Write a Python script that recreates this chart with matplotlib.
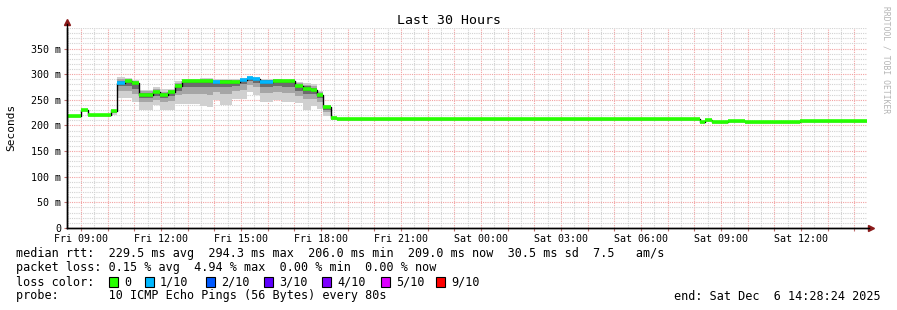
import numpy as np
import pandas as pd
import matplotlib
matplotlib.use('Agg')
import matplotlib.pyplot as plt
import matplotlib.dates as mdates
from matplotlib.ticker import MultipleLocator, FuncFormatter
from matplotlib.patches import Rectangle

# Smokeping data, consolidated steps (start of each step), values in ms
seg_start = [
    '2025-12-05 08:28:24', '2025-12-05 09:00', '2025-12-05 09:15', '2025-12-05 10:07',
    '2025-12-05 10:21', '2025-12-05 10:39', '2025-12-05 10:55', '2025-12-05 11:10',
    '2025-12-05 11:42', '2025-12-05 11:58', '2025-12-05 12:15', '2025-12-05 12:31',
    '2025-12-05 12:47', '2025-12-05 13:27', '2025-12-05 13:43', '2025-12-05 13:57',
    '2025-12-05 14:12', '2025-12-05 14:39', '2025-12-05 14:57', '2025-12-05 15:13',
    '2025-12-05 15:27', '2025-12-05 15:42', '2025-12-05 16:12', '2025-12-05 16:32',
    '2025-12-05 17:01', '2025-12-05 17:19', '2025-12-05 17:37', '2025-12-05 17:51',
    '2025-12-05 18:04', '2025-12-05 18:22', '2025-12-05 18:36',
    '2025-12-06 01:50', '2025-12-06 03:42', '2025-12-06 07:50', '2025-12-06 08:12',
    '2025-12-06 08:23', '2025-12-06 08:39', '2025-12-06 09:15', '2025-12-06 09:53',
    '2025-12-06 10:20', '2025-12-06 10:40', '2025-12-06 11:57',
]
t_end = '2025-12-06 14:28:24'

median_ms = [218, 230, 220, 228, 283, 287, 283, 260, 265, 260, 265, 276, 286, 286,
             286, 284, 285, 284, 288, 293, 290, 285, 287, 286, 276, 272, 270, 259,
             235, 215, 213, 212, 213, 212, 207, 211, 206, 209, 206, 207, 206, 209]
loss_tenths = [0, 0, 0, 0, 1, 0, 0, 0, 0, 0, 0, 0, 0, 0,
               0, 1, 0, 0, 1, 1, 1, 1, 0, 0, 0, 0, 0, 0,
               0, 0, 0, 0, 0, 0, 0, 0, 0, 0, 0, 0, 0, 0]
smoke_min = [217, 229, 219, 220, 254, 254, 246, 231, 239, 230, 230, 241, 241, 237,
             235, 249, 240, 251, 251, 265, 259, 245, 249, 246, 243, 231, 237, 233,
             218, 210, 212, 211, 212, 211, 206, 210, 205, 208, 205, 206, 205, 208]
smoke_max = [219, 231, 221, 229, 294, 293, 288, 270, 274, 271, 271, 287, 290, 292,
             292, 291, 291, 291, 293, 296, 294, 291, 291, 290, 285, 283, 280, 268,
             240, 218, 214, 213, 214, 213, 208, 212, 207, 210, 207, 208, 207, 210]
inner_lo = [218, 230, 220, 224, 268, 268, 262, 246, 250, 245, 248, 260, 262, 262,
            260, 265, 262, 267, 270, 278, 274, 264, 266, 263, 258, 252, 252, 246,
            226, 212, 213, 212, 213, 212, 207, 211, 206, 209, 206, 207, 206, 209]
inner_hi = [218, 230, 220, 228, 290, 291, 286, 267, 271, 266, 269, 283, 289, 290,
            290, 289, 289, 289, 291, 295, 292, 289, 290, 289, 282, 279, 277, 265,
            238, 217, 213, 212, 213, 212, 207, 211, 206, 209, 206, 207, 206, 209]
core_lo = [218, 230, 220, 226, 276, 277, 272, 254, 258, 253, 257, 268, 274, 275,
           274, 275, 274, 276, 280, 286, 282, 274, 276, 274, 267, 262, 261, 253,
           231, 214, 213, 212, 213, 212, 207, 211, 206, 209, 206, 207, 206, 209]
core_hi = [218, 230, 220, 228, 287, 289, 285, 264, 268, 263, 267, 280, 288, 289,
           289, 287, 288, 287, 290, 294, 291, 288, 289, 288, 279, 276, 273, 262,
           237, 216, 213, 212, 213, 212, 207, 211, 206, 209, 206, 207, 206, 209]

loss_steps = [0, 1, 2, 3, 4, 5, 9]
loss_labels = ['0', '1/10', '2/10', '3/10', '4/10', '5/10', '9/10']
loss_colors = ['#26ff00', '#00b8ff', '#0059ff', '#5e00ff', '#7e00ff', '#dd00ff', '#ff0000']

stats_lines = [
    'median rtt:  229.5 ms avg  294.3 ms max  206.0 ms min  209.0 ms now  30.5 ms sd  7.5   am/s',
    'packet loss: 0.15 % avg  4.94 % max  0.00 % min  0.00 % now',
    'loss color:',
    'probe:       10 ICMP Echo Pings (56 Bytes) every 80s',
]
end_text = 'end: Sat Dec  6 14:28:24 2025'

plt.rcParams['font.family'] = 'DejaVu Sans Mono'

W, H = 897, 310
fig = plt.figure(figsize=(W / 100, H / 100), dpi=100)
ax = fig.add_axes([67 / W, 82 / H, 800 / W, 200 / H])

edges = mdates.date2num(pd.to_datetime(seg_start + [t_end], format='mixed'))


def stepped(v):
    v = np.asarray(v, dtype=float)
    return np.append(v, v[-1])


# smoke
ax.fill_between(edges, stepped(smoke_min), stepped(smoke_max), step='post',
                color='#d0d0d0', lw=0, zorder=2)
ax.fill_between(edges, stepped(inner_lo), stepped(inner_hi), step='post',
                color='#a6a6a6', lw=0, zorder=2)
ax.fill_between(edges, stepped(core_lo), stepped(core_hi), step='post',
                color='#6c6c6c', lw=0, zorder=2)

# median line, coloured by loss
ax.step(edges, stepped(median_ms), where='post', color='black', lw=1.0, zorder=3)
for i, m in enumerate(median_ms):
    c = loss_colors[loss_steps.index(loss_tenths[i])]
    ax.hlines(m, edges[i], edges[i + 1], colors=c, lw=2.6, capstyle='butt', zorder=4)

ax.set_xlim(edges[0], edges[-1])
ax.set_ylim(0, 390)

# grid
ax.xaxis.set_major_locator(mdates.HourLocator(interval=1))
ax.xaxis.set_minor_locator(mdates.MinuteLocator(byminute=[30]))
ax.xaxis.set_major_formatter(FuncFormatter(
    lambda v, p: mdates.num2date(v).strftime('%a %H:%M') if mdates.num2date(v).hour % 3 == 0 else ''))
ax.yaxis.set_major_locator(MultipleLocator(50))
ax.yaxis.set_minor_locator(MultipleLocator(10))
ax.yaxis.set_major_formatter(FuncFormatter(lambda v, p: '0' if v == 0 else '%d m' % v))

ax.grid(which='minor', color='#d2d2d2', ls=(0, (1, 1)), lw=0.8, zorder=1)
ax.grid(which='major', color='#f2a2a2', ls=(0, (1, 1)), lw=0.8, zorder=1)
ax.set_axisbelow(True)

ax.tick_params(which='major', direction='out', length=2, width=0.8, color='#c07070',
               labelsize=7.2, pad=2)
ax.tick_params(which='minor', length=0)

for s in ['top', 'right']:
    ax.spines[s].set_visible(False)
for s in ['left', 'bottom']:
    ax.spines[s].set_color('black')
    ax.spines[s].set_linewidth(1)
    ax.spines[s].set_zorder(5)

# axis arrows
ax.plot([0, 0], [0, 1.02], transform=ax.transAxes, color='black', lw=1, clip_on=False, zorder=5)
ax.plot(0, 1.03, marker='^', color='#8b1a1a', ms=4, transform=ax.transAxes, clip_on=False)
ax.plot([0, 1.003], [0, 0], transform=ax.transAxes, color='black', lw=1, clip_on=False, zorder=5)
ax.plot(1.005, 0, marker='>', color='#8b1a1a', ms=4, transform=ax.transAxes, clip_on=False)

# texts
fig.text(0.5, 1 - 20 / H, 'Last 30 Hours', ha='center', va='center', size=9.5)
fig.text(11 / W, 1 - 127 / H, 'Seconds', rotation=90, ha='center', va='center', size=8)
fig.text(886 / W, 1 - 60 / H, 'RRDTOOL / TOBI OETIKER', rotation=270, ha='center',
         va='center', size=5.8, color='#b4b4b4')

rows_y = [254, 268, 282, 296]
for y, line in zip(rows_y, stats_lines):
    fig.text(16 / W, 1 - y / H, line, ha='left', va='center', size=8.5)
fig.text(881 / W, 1 - 296 / H, end_text, ha='right', va='center', size=8.5)

box_x = [109, 145, 206, 264, 322, 381, 436]
for bx, lab, col in zip(box_x, loss_labels, loss_colors):
    fig.add_artist(Rectangle((bx / W, 1 - 287 / H), 9 / W, 10 / H, transform=fig.transFigure,
                             facecolor=col, edgecolor='black', lw=0.8))
    fig.text((bx + 15) / W, 1 - 282 / H, lab, ha='left', va='center', size=8.5)

fig.savefig('out.png', dpi=100)
